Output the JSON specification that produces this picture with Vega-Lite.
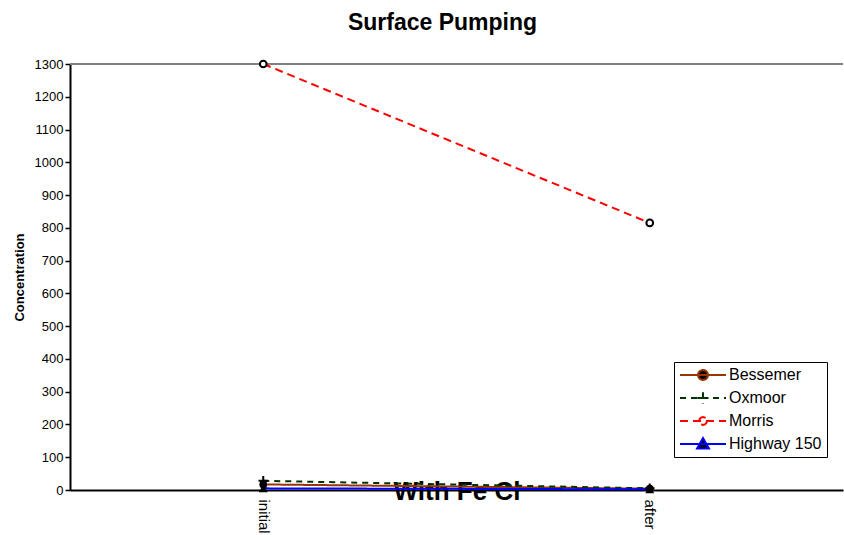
{
  "$schema": "https://vega.github.io/schema/vega-lite/v6.json",
  "width": 773,
  "height": 426,
  "padding": {"left": 13, "top": 11, "right": 0, "bottom": 0},
  "background": "white",
  "config": {"view": {"stroke": null}, "font": "Liberation Sans"},
  "title": {"text": "Surface Pumping", "fontSize": 23, "fontWeight": "bold", "font": "Liberation Sans", "color": "black", "dx": -14, "offset": 22},
  "data": {"values": [
    {"site": "Bessemer", "stage": "initial", "value": 17},
    {"site": "Bessemer", "stage": "after", "value": 4},
    {"site": "Oxmoor", "stage": "initial", "value": 28},
    {"site": "Oxmoor", "stage": "after", "value": 5},
    {"site": "Morris", "stage": "initial", "value": 1300},
    {"site": "Morris", "stage": "after", "value": 815},
    {"site": "Highway 150", "stage": "initial", "value": 5},
    {"site": "Highway 150", "stage": "after", "value": 2}
  ]},
  "encoding": {
    "x": {"field": "stage", "type": "ordinal", "sort": ["initial", "after"],
      "scale": {"type": "point", "padding": 0.5},
      "axis": {"title": "With Fe Cl", "titleFontSize": 26, "titleFontWeight": "bold", "titleColor": "black", "titleBaseline": "alphabetic", "titleY": 9,
        "labelAngle": 90, "labelAlign": "left", "labelBaseline": "middle", "labelFontSize": 15, "labelColor": "black", "labelPadding": 9,
        "ticks": false, "domainColor": "black", "domainWidth": 2, "grid": false}},
    "y": {"field": "value", "type": "quantitative", "scale": {"domain": [0, 1300], "nice": false},
      "axis": {"title": "Concentration", "titleFontSize": 13, "titleFontWeight": "bold", "titleColor": "black", "titlePadding": 8, "format": "d",
        "values": [0,100,200,300,400,500,600,700,800,900,1000,1100,1200,1300],
        "labelFontSize": 13, "labelColor": "black", "tickColor": "black", "tickSize": 5, "tickWidth": 1.5,
        "domainColor": "black", "domainWidth": 2, "grid": false}}
  },
  "layer": [
    {"mark": {"type": "rule", "color": "#808080", "strokeWidth": 2}, "encoding": {"y": {"datum": 1300}, "x": null}},
    {"mark": {"type": "line", "strokeWidth": 2},
      "encoding": {
        "color": {"field": "site", "type": "nominal",
          "scale": {"domain": ["Bessemer", "Oxmoor", "Morris", "Highway 150"], "range": ["#993300", "#003300", "#FF0000", "#0000FF"]},
          "legend": {"title": null, "orient": "none", "legendX": 604, "legendY": 298, "strokeColor": "black", "fillColor": "white",
            "padding": 5, "labelFontSize": 16, "labelColor": "black", "symbolSize": 144, "symbolStrokeWidth": 2, "rowPadding": 7, "labelOffset": 2, "clipHeight": 16,
            "encode": {"symbols": {"update": {
              "size": {"value": 2116},
              "fill": {"signal": "datum.value === 'Morris' ? 'white' : 'black'"},
              "strokeWidth": {"value": 2},
              "shape": {"signal": "datum.value === 'Bessemer' ? 'M-1,0H1M0.22,0L0.19,0.11L0.11,0.19L0,0.22L-0.11,0.19L-0.19,0.11L-0.22,0L-0.19,-0.11L-0.11,-0.19L0,-0.22L0.11,-0.19L0.19,-0.11Z' : datum.value === 'Oxmoor' ? 'M-1,0H1M0,-0.25V0.25M-0.25,0H0.25' : datum.value === 'Morris' ? 'M-1,0H1M0.17,0L0.147,0.085L0.085,0.147L0,0.17L-0.085,0.147L-0.147,0.085L-0.17,0L-0.147,-0.085L-0.085,-0.147L0,-0.17L0.085,-0.147L0.147,-0.085Z' : 'M-1,0H1M0,-0.26L0.26,0.2L-0.26,0.2Z'"}
            }}}}},
        "strokeDash": {"field": "site", "type": "nominal",
          "scale": {"domain": ["Bessemer", "Oxmoor", "Morris", "Highway 150"], "range": [[1, 0], [6, 5], [8, 5], [1, 0]]}}
      }},
    {"transform": [{"filter": "datum.site === 'Bessemer'"}],
      "mark": {"type": "point", "shape": "circle", "filled": true, "color": "black", "size": 60, "opacity": 1}, "encoding": {}},
    {"transform": [{"filter": "datum.site === 'Oxmoor'"}],
      "mark": {"type": "point", "shape": "M-1,0H1M0,-1V1", "filled": false, "color": "black", "strokeWidth": 2, "size": 90, "opacity": 1}, "encoding": {}},
    {"transform": [{"filter": "datum.site === 'Morris'"}],
      "mark": {"type": "point", "shape": "circle", "filled": false, "fill": "white", "color": "black", "strokeWidth": 2, "size": 45, "opacity": 1}, "encoding": {}},
    {"transform": [{"filter": "datum.site === 'Highway 150'"}],
      "mark": {"type": "point", "shape": "triangle-up", "filled": true, "color": "black", "size": 80, "opacity": 1}, "encoding": {}}
  ]
}
